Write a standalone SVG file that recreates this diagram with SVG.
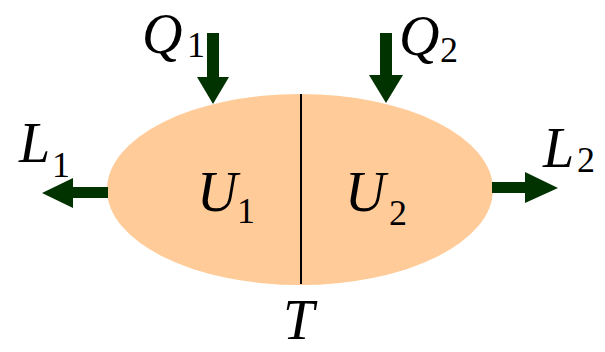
<svg xmlns="http://www.w3.org/2000/svg" width="605" height="352" viewBox="0 0 605 352">
<style>
.arr{fill:#003300}
text{font-family:'Liberation Serif','Times New Roman',serif;fill:#000}
.t{font-style:italic;font-size:56px}
.s{font-size:36px}
</style>
<rect width="605" height="352" fill="#fff"/>
<g id="body">
<ellipse cx="300" cy="189.5" rx="193" ry="95.5" fill="#FFCC99"/>
<line x1="301" y1="94" x2="301" y2="284" stroke="#000" stroke-width="2"/>
<text class="t" x="197" y="211">U</text><text class="s" x="237" y="223">1</text>
<text class="t" x="345" y="211">U</text><text class="s" x="389" y="225">2</text>
</g>
<g id="connectors">
<polygon class="arr" points="207,33 219,33 219,77 229,77 213,104 197,77 207,77"/>
<polygon class="arr" points="380,33 392,33 392,75 403,75 386,103 369,75 380,75"/>
<polygon class="arr" points="108,187 108,198 73,198 73,208 42,193 73,178 73,187"/>
<polygon class="arr" points="492,182 492,193 525,193 525,203 558,188 525,172 525,182"/>
</g>
<g id="labels">
<text class="t" x="142" y="53">Q</text><text class="s" x="187" y="57">1</text>
<text class="t" x="399" y="55">Q</text><text class="s" x="440" y="62">2</text>
<text class="t" x="19" y="162">L</text><text class="s" x="52" y="177">1</text>
<text class="t" x="543" y="167">L</text><text class="s" x="577" y="172">2</text>
<text class="t" x="283" y="339">T</text>
</g>
</svg>
